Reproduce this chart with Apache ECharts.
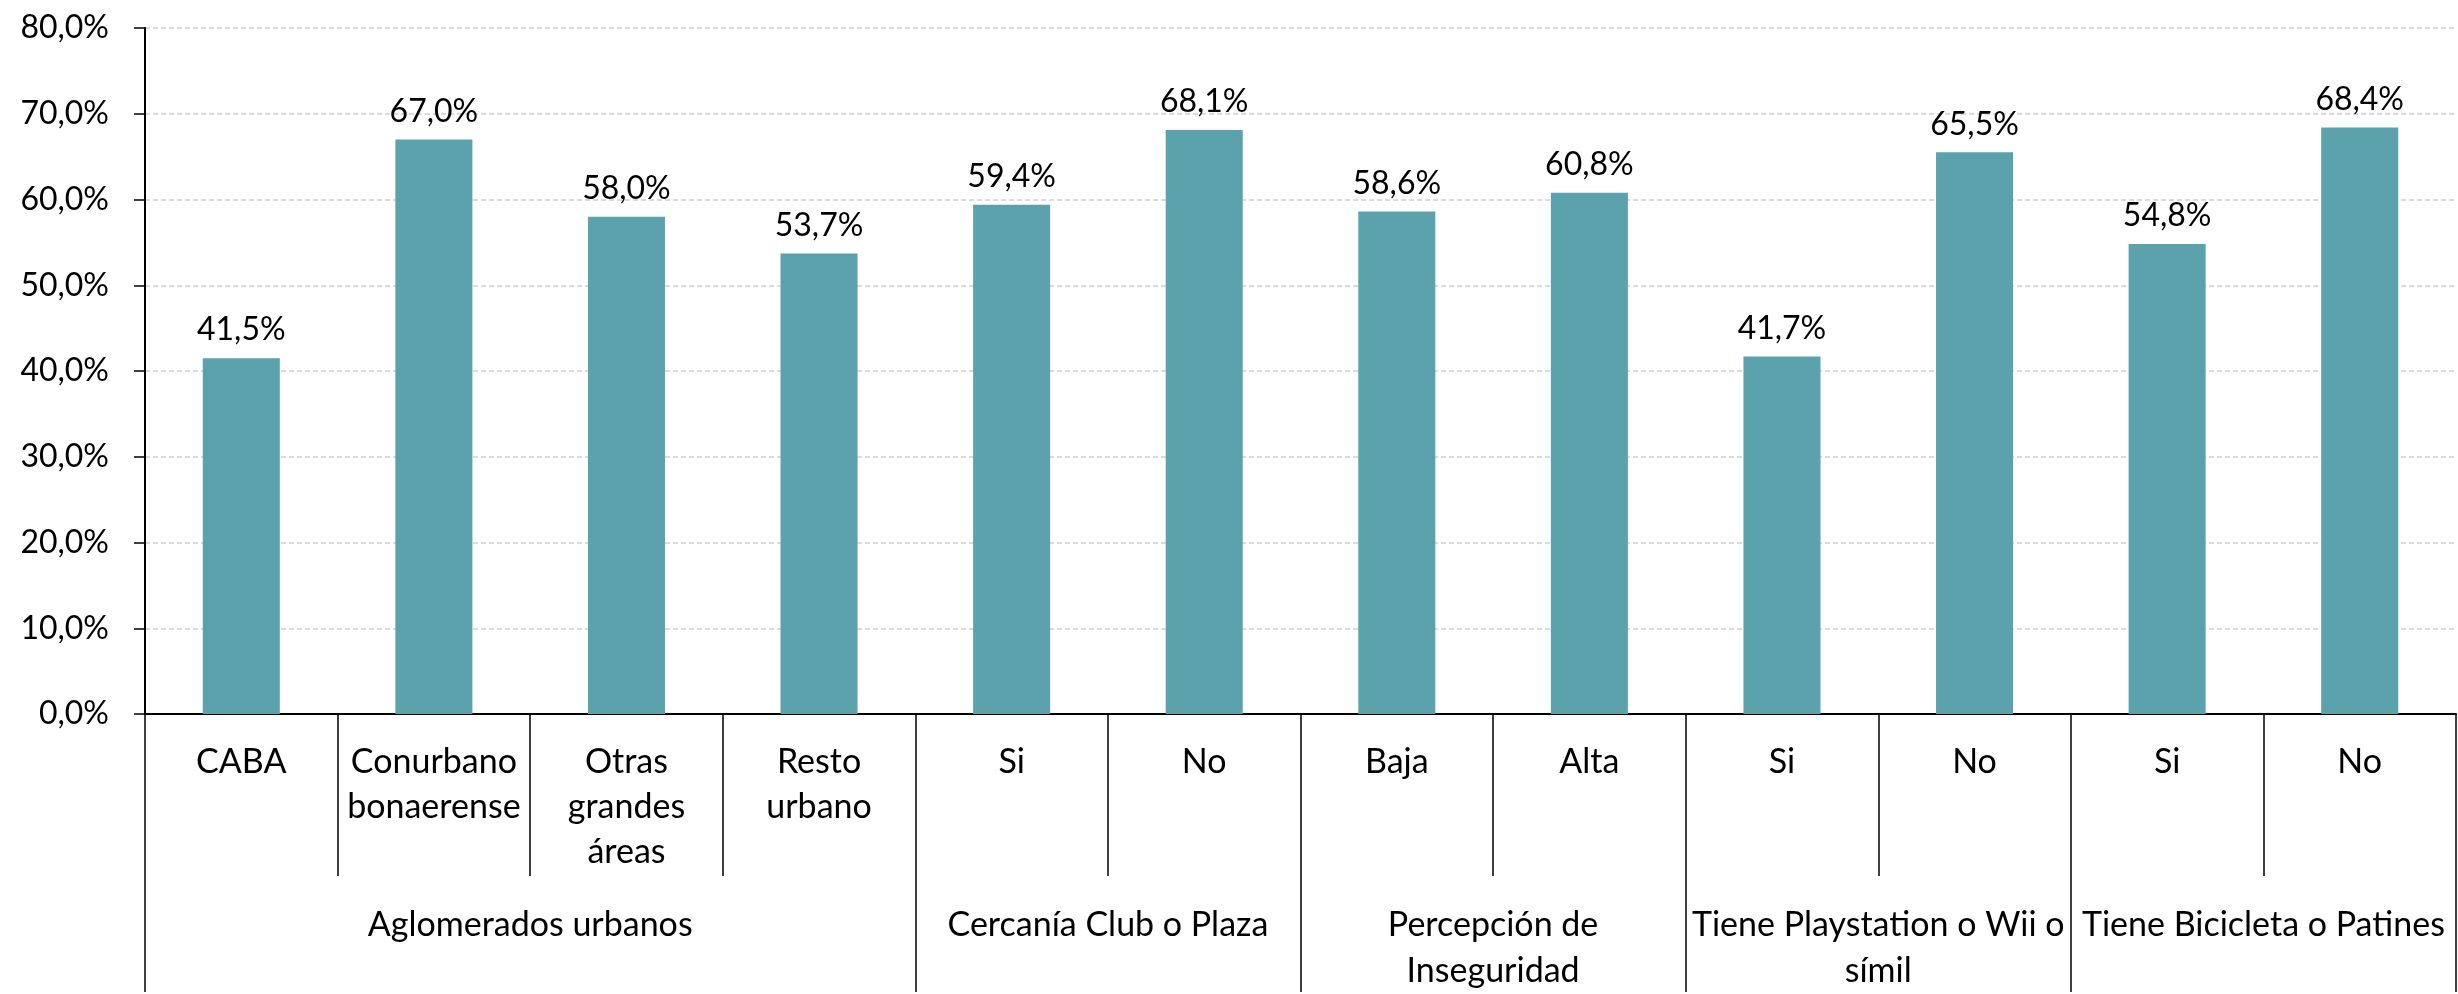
<!DOCTYPE html>
<html>
<head>
<meta charset="utf-8">
<script src="https://cdn.jsdelivr.net/npm/echarts@6/dist/echarts.min.js"></script>
<style>
html,body{margin:0;padding:0;background:#fff;}
#chart{width:2458px;height:994px;}
</style>
</head>
<body>
<div id="chart"></div>
<script>
// ---- data ----
const categories = ['CABA', 'Conurbano\nbonaerense', 'Otras\ngrandes\náreas', 'Resto\nurbano',
  'Si', 'No', 'Baja', 'Alta', 'Si', 'No', 'Si', 'No'];
const values = [41.5, 67.0, 58.0, 53.7, 59.4, 68.1, 58.6, 60.8, 41.7, 65.5, 54.8, 68.4];
const groupNames = ['Aglomerados urbanos', 'Cercanía Club o Plaza', 'Percepción de\nInseguridad',
  'Tiene Playstation o Wii o\nsímil', 'Tiene Bicicleta o Patines'];
const groupSizes = [4, 2, 2, 2, 2];
const yTicks = [0, 10, 20, 30, 40, 50, 60, 70, 80];

// group boundaries and centres in category units
const boundaries = [0];
const centers = [];
groupSizes.forEach(function (s) {
  const start = boundaries[boundaries.length - 1];
  centers.push(start + s / 2);
  boundaries.push(start + s);
});
const fmtPct = function (v) { return Number(v).toFixed(1).replace('.', ',') + '%'; };
const FONT = 'Lato';
const FS = 32;      // numbers
const FS_TXT = 34;  // category text

const chart = echarts.init(document.getElementById('chart'), null, {renderer: 'canvas'});
chart.setOption({
  animation: false,
  backgroundColor: '#ffffff',
  textStyle: {fontFamily: FONT},
  grid: {left: 145, right: 2, top: 28, bottom: 278, containLabel: false},
  xAxis: [{
    type: 'category',
    data: categories,
    position: 'bottom',
    axisLine: {show: true, lineStyle: {color: '#000', width: 2}},
    axisTick: {show: true, interval: 0, length: 162, lineStyle: {color: '#000', width: 1.5}},
    axisLabel: {interval: 0, margin: 26, color: '#000', fontFamily: FONT, fontSize: FS_TXT, lineHeight: 45, align: 'center'},
    splitLine: {show: false}
  }, {
    type: 'value',
    min: 0,
    max: categories.length,
    position: 'bottom',
    axisLine: {show: false},
    splitLine: {show: false},
    axisTick: {show: true, customValues: boundaries, length: 278, lineStyle: {color: '#000', width: 1.5}},
    axisLabel: {
      customValues: centers, margin: 188, color: '#000', fontFamily: FONT, fontSize: FS_TXT, lineHeight: 46, align: 'center',
      formatter: function (v) { const i = centers.indexOf(v); return i >= 0 ? groupNames[i] : ''; }
    }
  }],
  yAxis: {
    type: 'value',
    min: yTicks[0],
    max: yTicks[yTicks.length - 1],
    interval: 10,
    axisLine: {show: true, lineStyle: {color: '#000', width: 2}},
    axisTick: {show: true, length: 11, lineStyle: {color: '#000', width: 1.5}},
    axisLabel: {margin: 36, color: '#000', fontFamily: FONT, fontSize: FS, formatter: fmtPct},
    splitLine: {show: true, lineStyle: {color: '#d0d0d0', width: 1.5, type: [5, 3]}}
  },
  series: [{
    type: 'bar',
    xAxisIndex: 0,
    data: values,
    barWidth: '40%',
    itemStyle: {color: '#5BA2AD'},
    label: {
      show: true, position: 'top', distance: 12, color: '#000', fontFamily: FONT, fontSize: FS,
      formatter: function (p) { return fmtPct(p.value); }
    }
  }]
});
</script>
</body>
</html>
